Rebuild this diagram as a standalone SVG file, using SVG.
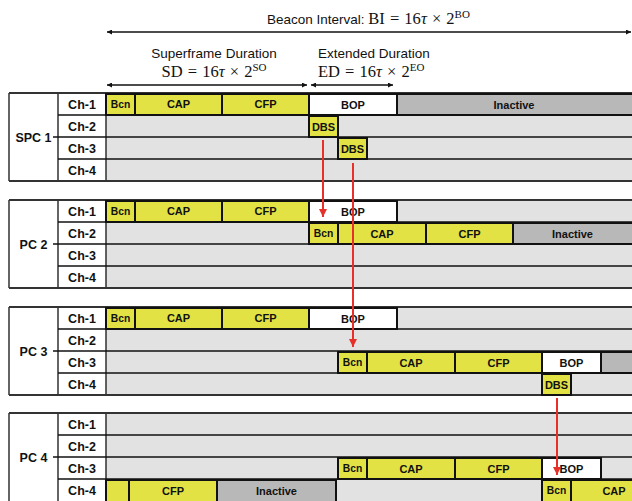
<svg xmlns="http://www.w3.org/2000/svg" width="632" height="501" viewBox="0 0 632 501">
<style>
.sans{font-family:"Liberation Sans",Arial,sans-serif;}
.serif{font-family:"Liberation Serif","Times New Roman",serif;}
.hdr{font-size:13.5px;fill:#111;}
.math{font-size:16.5px;fill:#111;word-spacing:1px;}
.lbl{font-family:"Liberation Sans",Arial,sans-serif;font-weight:bold;font-size:12.5px;fill:#111;text-anchor:middle;}
.box{font-family:"Liberation Sans",Arial,sans-serif;font-weight:bold;font-size:11px;fill:#111;text-anchor:middle;}
.bcn{font-size:10.3px;}
.row{fill:#e2e2e2;}
.cell{fill:#fff;}
.y{fill:#e2e245;stroke:#111;stroke-width:2;}
.w{fill:#fff;stroke:#111;stroke-width:2;}
.g{fill:#b8b8b8;stroke:#111;stroke-width:2;}
.rl{stroke:#111;stroke-width:1.3;fill:none;}
.bl{stroke:#333;stroke-width:2;fill:none;}
.dim{stroke:#111;stroke-width:1.5;fill:none;marker-start:url(#ah);marker-end:url(#ah);}
.red{stroke:#e8302a;stroke-width:2;fill:none;marker-end:url(#rh);}
</style>
<defs>
<marker id="ah" viewBox="0 0 10 10" refX="10" refY="5" markerWidth="6" markerHeight="5" orient="auto-start-reverse" markerUnits="userSpaceOnUse">
<path d="M0,0 L10,5 L0,10 z" fill="#111"/>
</marker>
<marker id="rh" viewBox="0 0 10 10" refX="10" refY="5" markerWidth="8" markerHeight="8" orient="auto" markerUnits="userSpaceOnUse">
<path d="M0,0 L10,5 L0,10 z" fill="#e8302a"/>
</marker>
</defs>
<rect width="632" height="501" fill="#fff"/>

<g id="header">
<text x="267" y="24" class="hdr sans">Beacon Interval: <tspan class="serif" font-size="16.5px" word-spacing="1px">BI = 16<tspan font-style="italic">τ</tspan> × 2<tspan font-size="11px" dy="-6">BO</tspan></tspan></text>
<line x1="107" y1="32" x2="631" y2="32" class="dim"/>
<text x="214" y="58" class="hdr sans" text-anchor="middle">Superframe Duration</text>
<text x="214" y="77" class="math serif" text-anchor="middle">SD = 16<tspan font-style="italic">τ</tspan> × 2<tspan font-size="11px" dy="-6">SO</tspan></text>
<line x1="107" y1="85" x2="307" y2="85" class="dim"/>
<text x="318" y="58" class="hdr sans">Extended Duration</text>
<text x="318" y="77" class="math serif">ED = 16<tspan font-style="italic">τ</tspan> × 2<tspan font-size="11px" dy="-6">EO</tspan></text>
<line x1="311" y1="85" x2="393" y2="85" class="dim"/>
</g>

<g id="spc1">
<rect x="106" y="93" width="526" height="88" class="row"/>
<rect x="9" y="93" width="97" height="88" class="cell"/>
<line x1="58" y1="115" x2="632" y2="115" class="rl"/>
<line x1="53" y1="137" x2="632" y2="137" class="rl"/>
<line x1="58" y1="159" x2="632" y2="159" class="rl"/>
<line x1="9" y1="93" x2="9" y2="181" class="rl"/>
<line x1="58" y1="93" x2="58" y2="181" class="rl"/>
<line x1="106" y1="93" x2="106" y2="181" class="rl"/>
<line x1="9" y1="93" x2="632" y2="93" class="bl"/>
<line x1="9" y1="181" x2="632" y2="181" class="bl"/>
<text x="33.5" y="141.5" class="lbl">SPC 1</text>
<text x="82" y="108.5" class="lbl">Ch-1</text>
<text x="82" y="130.5" class="lbl">Ch-2</text>
<text x="82" y="152.5" class="lbl">Ch-3</text>
<text x="82" y="174.5" class="lbl">Ch-4</text>
<rect x="106" y="94" width="29" height="21" class="y"/><text x="120.5" y="108" class="box bcn">Bcn</text>
<rect x="135" y="94" width="87" height="21" class="y"/><text x="178.5" y="108" class="box">CAP</text>
<rect x="222" y="94" width="87" height="21" class="y"/><text x="265.5" y="108" class="box">CFP</text>
<rect x="309" y="94" width="88" height="21" class="w"/><text x="353" y="108.5" class="box">BOP</text>
<rect x="397" y="94" width="240" height="21" class="g"/><text x="514" y="108.5" class="box">Inactive</text>
<rect x="309" y="116" width="29" height="21" class="y"/><text x="323.5" y="130.5" class="box">DBS</text>
<rect x="338" y="138" width="29" height="21" class="y"/><text x="352.5" y="152.5" class="box">DBS</text>
</g>

<g id="pc2">
<rect x="106" y="200" width="526" height="88" class="row"/>
<rect x="9" y="200" width="97" height="88" class="cell"/>
<line x1="58" y1="222" x2="632" y2="222" class="rl"/>
<line x1="53" y1="244" x2="632" y2="244" class="rl"/>
<line x1="58" y1="266" x2="632" y2="266" class="rl"/>
<line x1="9" y1="200" x2="9" y2="288" class="rl"/>
<line x1="58" y1="200" x2="58" y2="288" class="rl"/>
<line x1="106" y1="200" x2="106" y2="288" class="rl"/>
<line x1="9" y1="200" x2="632" y2="200" class="bl"/>
<line x1="9" y1="288" x2="632" y2="288" class="bl"/>
<text x="33.5" y="248.5" class="lbl">PC 2</text>
<text x="82" y="215.5" class="lbl">Ch-1</text>
<text x="82" y="237.5" class="lbl">Ch-2</text>
<text x="82" y="259.5" class="lbl">Ch-3</text>
<text x="82" y="281.5" class="lbl">Ch-4</text>
<rect x="106" y="201" width="29" height="21" class="y"/><text x="120.5" y="215" class="box bcn">Bcn</text>
<rect x="135" y="201" width="87" height="21" class="y"/><text x="178.5" y="215" class="box">CAP</text>
<rect x="222" y="201" width="87" height="21" class="y"/><text x="265.5" y="215" class="box">CFP</text>
<rect x="309" y="201" width="88" height="21" class="w"/><text x="353" y="215.5" class="box">BOP</text>
<rect x="309" y="223" width="29" height="21" class="y"/><text x="323.5" y="237" class="box bcn">Bcn</text>
<rect x="338" y="223" width="88" height="21" class="y"/><text x="382" y="237.5" class="box">CAP</text>
<rect x="426" y="223" width="87" height="21" class="y"/><text x="469.5" y="237.5" class="box">CFP</text>
<rect x="513" y="223" width="124" height="21" class="g"/><text x="572.5" y="237.5" class="box">Inactive</text>
</g>

<g id="pc3">
<rect x="106" y="307" width="526" height="88" class="row"/>
<rect x="9" y="307" width="97" height="88" class="cell"/>
<line x1="58" y1="329" x2="632" y2="329" class="rl"/>
<line x1="53" y1="351" x2="632" y2="351" class="rl"/>
<line x1="58" y1="373" x2="632" y2="373" class="rl"/>
<line x1="9" y1="307" x2="9" y2="395" class="rl"/>
<line x1="58" y1="307" x2="58" y2="395" class="rl"/>
<line x1="106" y1="307" x2="106" y2="395" class="rl"/>
<line x1="9" y1="307" x2="632" y2="307" class="bl"/>
<line x1="9" y1="395" x2="632" y2="395" class="bl"/>
<text x="33.5" y="355.5" class="lbl">PC 3</text>
<text x="82" y="322.5" class="lbl">Ch-1</text>
<text x="82" y="344.5" class="lbl">Ch-2</text>
<text x="82" y="366.5" class="lbl">Ch-3</text>
<text x="82" y="388.5" class="lbl">Ch-4</text>
<rect x="106" y="308" width="29" height="21" class="y"/><text x="120.5" y="322" class="box bcn">Bcn</text>
<rect x="135" y="308" width="87" height="21" class="y"/><text x="178.5" y="322" class="box">CAP</text>
<rect x="222" y="308" width="87" height="21" class="y"/><text x="265.5" y="322" class="box">CFP</text>
<rect x="309" y="308" width="88" height="21" class="w"/><text x="353" y="322.5" class="box">BOP</text>
<rect x="338" y="352" width="29" height="21" class="y"/><text x="352.5" y="366" class="box bcn">Bcn</text>
<rect x="367" y="352" width="88" height="21" class="y"/><text x="411" y="366.5" class="box">CAP</text>
<rect x="455" y="352" width="87" height="21" class="y"/><text x="498.5" y="366.5" class="box">CFP</text>
<rect x="542" y="352" width="59" height="21" class="w"/><text x="571.5" y="366.5" class="box">BOP</text>
<rect x="601" y="352" width="40" height="21" class="g"/>
<rect x="542" y="374" width="29" height="21" class="y"/><text x="556.5" y="388.5" class="box">DBS</text>
</g>

<g id="pc4">
<rect x="106" y="413" width="526" height="88" class="row"/>
<rect x="9" y="413" width="97" height="88" class="cell"/>
<line x1="58" y1="435" x2="632" y2="435" class="rl"/>
<line x1="53" y1="457" x2="632" y2="457" class="rl"/>
<line x1="58" y1="479" x2="632" y2="479" class="rl"/>
<line x1="9" y1="413" x2="9" y2="501" class="rl"/>
<line x1="58" y1="413" x2="58" y2="501" class="rl"/>
<line x1="106" y1="413" x2="106" y2="501" class="rl"/>
<line x1="9" y1="413" x2="632" y2="413" class="bl"/>
<text x="33.5" y="461.5" class="lbl">PC 4</text>
<text x="82" y="428.5" class="lbl">Ch-1</text>
<text x="82" y="450.5" class="lbl">Ch-2</text>
<text x="82" y="472.5" class="lbl">Ch-3</text>
<text x="82" y="494.5" class="lbl">Ch-4</text>
<rect x="338" y="458" width="29" height="21" class="y"/><text x="352.5" y="472" class="box bcn">Bcn</text>
<rect x="367" y="458" width="88" height="21" class="y"/><text x="411" y="472.5" class="box">CAP</text>
<rect x="455" y="458" width="87" height="21" class="y"/><text x="498.5" y="472.5" class="box">CFP</text>
<rect x="542" y="458" width="59" height="21" class="w"/><text x="571.5" y="472.5" class="box">BOP</text>
<rect x="106" y="480" width="23" height="22" class="y"/>
<rect x="129" y="480" width="88" height="22" class="y"/><text x="173" y="494.5" class="box">CFP</text>
<rect x="217" y="480" width="119" height="22" class="g"/><text x="276.5" y="494.5" class="box">Inactive</text>
<rect x="542" y="480" width="29" height="22" class="y"/><text x="556.5" y="494" class="box bcn">Bcn</text>
<rect x="571" y="480" width="88" height="22" class="y"/><text x="614" y="494.5" class="box">CAP</text>
</g>

<g id="connectors">
<line x1="323" y1="140" x2="323" y2="217" class="red"/>
<line x1="353" y1="163" x2="353" y2="347" class="red"/>
<line x1="557" y1="398" x2="557" y2="475" class="red"/>
</g>
</svg>
